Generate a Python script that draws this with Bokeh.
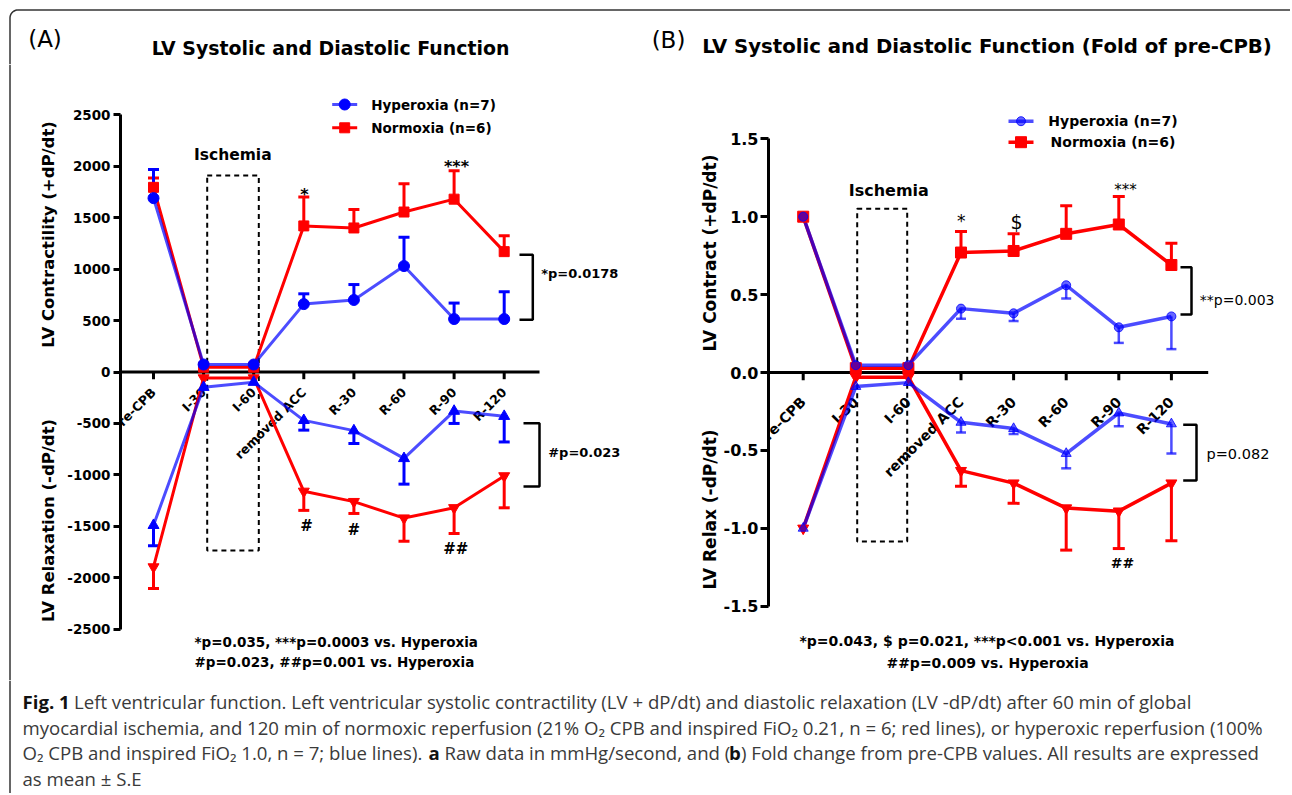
import math
import numpy as np
from bokeh.plotting import figure
from bokeh.models import (Range1d, LinearAxis, FixedTicker, CustomJSTickFormatter,
                          ColumnDataSource, Whisker, TeeHead)
from bokeh.layouts import row, column
from bokeh.core.properties import value
from bokeh.embed import file_html
from bokeh.resources import INLINE

# ---------------- data ----------------
categories = ["pre-CPB", "I-30", "I-60", "removed ACC", "R-30", "R-60", "R-90", "R-120"]

# Panel A: raw values (mmHg/s), mean and S.E.
a_hyper_contr = [1690, 73, 73, 660, 700, 1030, 515, 515]
a_hyper_contr_se = [278, 0, 0, 100, 150, 280, 155, 265]
a_normo_contr = [1795, 47, 47, 1420, 1400, 1555, 1680, 1170]
a_normo_contr_se = [90, 0, 0, 280, 180, 275, 275, 155]
a_hyper_relax = [-1490, -148, -99, -470, -570, -840, -380, -430]
a_hyper_relax_se = [200, 0, 0, 95, 125, 250, 120, 250]
a_normo_relax = [-1895, -58, -58, -1160, -1260, -1420, -1320, -1010]
a_normo_relax_se = [210, 0, 0, 185, 115, 225, 250, 310]

# Panel B: fold of pre-CPB, mean and S.E.
b_hyper_contr = [1.0, 0.047, 0.047, 0.41, 0.38, 0.56, 0.29, 0.36]
b_hyper_contr_se = [0, 0, 0, 0.065, 0.05, 0.085, 0.10, 0.21]
b_normo_contr = [1.0, 0.028, 0.028, 0.77, 0.78, 0.89, 0.95, 0.69]
b_normo_contr_se = [0, 0, 0, 0.135, 0.11, 0.18, 0.18, 0.14]
b_hyper_relax = [-1.0, -0.09, -0.065, -0.32, -0.36, -0.52, -0.26, -0.33]
b_hyper_relax_se = [0, 0, 0, 0.065, 0.035, 0.095, 0.085, 0.19]
b_normo_relax = [-1.0, -0.03, -0.03, -0.63, -0.71, -0.87, -0.89, -0.71]
b_normo_relax_se = [0, 0, 0, 0.10, 0.13, 0.27, 0.24, 0.37]

a_ticks = [-2500, -2000, -1500, -1000, -500, 0, 500, 1000, 1500, 2000, 2500]
b_ticks = [-1.5, -1.0, -0.5, 0.0, 0.5, 1.0, 1.5]

legend_labels = ["Hyperoxia (n=7)", "Normoxia (n=6)"]

# caption: (text, bold, left x in px) runs for each line
caption_lines = [
    [("Fig. 1", True, 22),
     ("Left ventricular function. Left ventricular systolic contractility (LV + dP/dt) and diastolic relaxation (LV -dP/dt) after 60 min of global", False, 73.5)],
    [("myocardial ischemia, and 120 min of normoxic reperfusion (21% O\u2082 CPB and inspired FiO\u2082 0.21, n = 6; red lines), or hyperoxic reperfusion (100%", False, 22)],
    [("O\u2082 CPB and inspired FiO\u2082 1.0, n = 7; blue lines).", False, 22),
     ("a", True, 428),
     ("Raw data in mmHg/second, and (", False, 444),
     ("b", True, 728.5),
     (") Fold change from pre-CPB values. All results are expressed", False, 740.5)],
    [("as mean \u00b1 S.E", False, 22)],
]

# ---------------- style ----------------
FONT = "DejaVu Sans"
CAP_FONT = "Open Sans"
CAP_SIZE = 18.6
RED = "#ff0000"
BLUE = "#0000ff"
BORDER = "#333333"
xpos = list(range(len(categories)))


def base_fig(width, height, pxx, pxy, xr=None, yr=None, border_left=0):
    xr = xr if xr is not None else pxx
    yr = yr if yr is not None else pxy
    p = figure(width=width, height=height, x_range=Range1d(*xr), y_range=Range1d(*yr),
               x_axis_type=None, y_axis_type=None, toolbar_location=None,
               output_backend="svg", min_border_left=border_left, min_border_right=0,
               min_border_top=0, min_border_bottom=0, outline_line_color=None,
               background_fill_color="white", border_fill_color="white")
    p.extra_x_ranges = {"px": Range1d(*pxx)}
    p.extra_y_ranges = {"px": Range1d(*pxy)}
    return p


def txt(p, x, y, s, size, bold=True, align="center", baseline="middle", angle=0.0,
        font=FONT, color="black"):
    p.text(x=[x], y=[y], text=[s], x_range_name="px", y_range_name="px",
           text_font=value(font), text_font_size=f"{size}px",
           text_font_style="bold" if bold else "normal",
           text_align=align, text_baseline=baseline, angle=angle, text_color=color)


def pline(p, xs, ys, width=2.0, color="black", dash="solid", alpha=1.0):
    p.line(x=xs, y=ys, x_range_name="px", y_range_name="px", line_width=width,
           line_color=color, line_dash=dash, line_alpha=alpha)


def yaxis(p, ticks, size, code, tick_out, standoff):
    ax = LinearAxis(ticker=FixedTicker(ticks=ticks), bounds=(min(ticks), max(ticks)),
                    formatter=CustomJSTickFormatter(code=code),
                    axis_line_width=3, axis_line_color="black",
                    major_tick_line_width=3, major_tick_line_color="black",
                    major_tick_in=0, major_tick_out=tick_out,
                    minor_tick_in=0, minor_tick_out=0, major_label_standoff=standoff,
                    major_label_text_font=FONT, major_label_text_font_style="bold",
                    major_label_text_font_size=f"{size}px", major_label_text_color="black")
    p.add_layout(ax, "left")


def xaxis(p, x_lo, x_hi, tick_len, size, xoff, yoff):
    n = len(xpos)
    p.segment(x0=[x_lo], y0=[0], x1=[x_hi], y1=[0], line_width=3, line_color="black")
    p.segment(x0=xpos, y0=[0] * n, x1=xpos, y1=[-tick_len] * n, line_width=3, line_color="black")
    p.text(x=xpos, y=[0] * n, text=categories, angle=math.pi / 4, text_align="right",
           text_baseline="middle", x_offset=xoff, y_offset=yoff,
           text_font=value(FONT), text_font_style="bold", text_font_size=f"{size}px",
           text_color="black")


def errbars(p, y, se, up, color, lw, cap, alpha=1.0):
    xs_, lo, hi = [], [], []
    for xi, yi, si in zip(xpos, y, se):
        if si > 0:
            xs_.append(xi)
            if up:
                lo.append(yi); hi.append(yi + si)
            else:
                lo.append(yi - si); hi.append(yi)
    src = ColumnDataSource(dict(x=xs_, lower=lo, upper=hi))
    head = TeeHead(size=cap, line_color=color, line_width=lw, line_alpha=alpha)
    w = Whisker(source=src, base="x", lower="lower", upper="upper", dimension="height",
                line_color=color, line_width=lw, line_alpha=alpha,
                upper_head=head if up else None, lower_head=None if up else head)
    p.add_layout(w)


# ---------------- top strip (titles, panel letters, border) ----------------
top = base_fig(1290, 64, (0, 1290), (64, 0))
t = np.linspace(0, math.pi / 2, 12)
pline(top, list(17.5 - 8 * np.cos(t)), list(17.5 - 8 * np.sin(t)), width=1.5, color=BORDER)
pline(top, [17.5, 1290], [9.5, 9.5], width=1.5, color=BORDER)
pline(top, [9.5, 9.5], [17.5, 64], width=1.5, color=BORDER)
txt(top, 44.5, 38.5, "(A)", 23, bold=False)
txt(top, 330, 47, "LV Systolic and Diastolic Function", 18.9)
txt(top, 668, 39.5, "(B)", 23, bold=False)
txt(top, 986.5, 45.5, "LV Systolic and Diastolic Function (Fold of pre-CPB)", 19.7)

# ---------------- panel A ----------------
ax_left = base_fig(64, 616, (0, 64), (680, 64))
pline(ax_left, [9.5, 9.5], [64, 680], width=1.5, color=BORDER)
txt(ax_left, 48, 234, "LV Contractility (+dP/dt)", 16.5, angle=math.pi / 2)
txt(ax_left, 48, 520, "LV Relaxation (-dP/dt)", 16.5, angle=math.pi / 2)

pA = base_fig(574, 616, (120, 638), (680, 64),
              xr=(-0.6587, 9.6806), yr=(-2998.6, 2988.9), border_left=56)
yaxis(pA, a_ticks, 13.5, "return tick.toFixed(0);", 7, 3)
xaxis(pA, -0.6587, 7.705, 70, 12.5, 0, 18)

# ischemia box & label
pA.quad(left=[206.7], right=[258.3], top=[175], bottom=[550], x_range_name="px",
        y_range_name="px", fill_color=None, line_color="black", line_width=2, line_dash="5 4")
txt(pA, 232.3, 154, "Ischemia", 15.5)

# series lines
pA.line(xpos, a_normo_contr, line_color=RED, line_width=3)
pA.line(xpos, a_normo_relax, line_color=RED, line_width=3)
pA.line(xpos, a_hyper_contr, line_color=BLUE, line_width=3, line_alpha=0.7)
pA.line(xpos, a_hyper_relax, line_color=BLUE, line_width=3, line_alpha=0.7)
errbars(pA, a_normo_contr, a_normo_contr_se, True, RED, 3, 11)
errbars(pA, a_hyper_contr, a_hyper_contr_se, True, BLUE, 3, 11)
errbars(pA, a_normo_relax, a_normo_relax_se, False, RED, 3, 11)
errbars(pA, a_hyper_relax, a_hyper_relax_se, False, BLUE, 3, 11)
pA.scatter(xpos, a_normo_contr, marker="square", size=10, color=RED)
pA.scatter(xpos, a_normo_relax, marker="inverted_triangle", size=11, color=RED)
pA.scatter(xpos, a_hyper_contr, marker="circle", size=11, color=BLUE)
pA.scatter(xpos, a_hyper_relax, marker="triangle", size=11, color=BLUE)

# legend A
pline(pA, [331.7, 356.7], [104, 104], width=3, color=BLUE, alpha=0.7)
pA.scatter(x=[344.2], y=[104], x_range_name="px", y_range_name="px", marker="circle", size=11, color=BLUE)
pline(pA, [331.7, 356.7], [127.3, 127.3], width=3, color=RED)
pA.scatter(x=[344.2], y=[127.3], x_range_name="px", y_range_name="px", marker="square", size=10, color=RED)
txt(pA, 370.7, 104, legend_labels[0], 13.5, align="left")
txt(pA, 370.7, 127.3, legend_labels[1], 13.5, align="left")

# significance marks A
txt(pA, 304, 194, "*", 16)
txt(pA, 456, 166, "***", 16)
txt(pA, 306, 525, "#", 15)
txt(pA, 353.3, 529, "#", 15)
txt(pA, 455.3, 548, "##", 15)

# brackets A
pline(pA, [519, 532.3, 532.3, 519], [254.3, 254.3, 319.3, 319.3], width=2.5)
txt(pA, 540.7, 273.3, "*p=0.0178", 13, align="left")
pline(pA, [523, 539, 539, 523], [422.7, 422.7, 486, 486], width=2.5)
txt(pA, 547.7, 451.7, "#p=0.023", 13, align="left")

txt(pA, 194, 641.7, "*p=0.035, ***p=0.0003 vs. Hyperoxia", 13.5, align="left")
txt(pA, 194, 661, "#p=0.023, ##p=0.001 vs. Hyperoxia", 13.5, align="left")

# ---------------- panel B ----------------
bx_left = base_fig(82, 616, (638, 720), (680, 64))
txt(bx_left, 709, 252.5, "LV Contract (+dP/dt)", 17, angle=math.pi / 2)
txt(bx_left, 709, 509, "LV Relax (-dP/dt)", 17, angle=math.pi / 2)

pB = base_fig(570, 616, (768, 1290), (680, 64),
              xr=(-0.6597, 9.2643), yr=(-1.9769, 1.9769), border_left=48)
yaxis(pB, b_ticks, 16, "return tick.toFixed(1);", 8, 2)
xaxis(pB, -0.6597, 7.70, 0.05, 14, 0, 27)

pB.quad(left=[856.7], right=[906.7], top=[208.3], bottom=[541], x_range_name="px",
        y_range_name="px", fill_color=None, line_color="black", line_width=2, line_dash="5 4")
txt(pB, 888.3, 190, "Ischemia", 16)

pB.line(xpos, b_normo_contr, line_color=RED, line_width=3.5)
pB.line(xpos, b_normo_relax, line_color=RED, line_width=3.5)
pB.line(xpos, b_hyper_contr, line_color=BLUE, line_width=3.5, line_alpha=0.7)
pB.line(xpos, b_hyper_relax, line_color=BLUE, line_width=3.5, line_alpha=0.7)
errbars(pB, b_normo_contr, b_normo_contr_se, True, RED, 3, 12)
errbars(pB, b_hyper_contr, b_hyper_contr_se, False, BLUE, 2.5, 10, alpha=0.7)
errbars(pB, b_normo_relax, b_normo_relax_se, False, RED, 3, 12)
errbars(pB, b_hyper_relax, b_hyper_relax_se, False, BLUE, 2.5, 10, alpha=0.7)
pB.scatter(xpos, b_normo_contr, marker="square", size=11, color=RED)
pB.scatter(xpos, b_normo_relax, marker="inverted_triangle", size=11, color=RED)
pB.scatter(xpos, b_hyper_contr, marker="circle", size=9, fill_color=BLUE, fill_alpha=0.6,
           line_color=BLUE, line_alpha=0.8)
pB.scatter(xpos, b_hyper_relax, marker="triangle", size=10, fill_color=BLUE, fill_alpha=0.6,
           line_color=BLUE, line_alpha=0.8)

pline(pB, [1008, 1033], [120.7, 120.7], width=3.5, color=BLUE, alpha=0.7)
pB.scatter(x=[1020.5], y=[120.7], x_range_name="px", y_range_name="px", marker="circle", size=9,
           fill_color=BLUE, fill_alpha=0.6, line_color=BLUE, line_alpha=0.8)
pline(pB, [1008, 1033], [141.7, 141.7], width=3.5, color=RED)
pB.scatter(x=[1020.5], y=[141.7], x_range_name="px", y_range_name="px", marker="square", size=11, color=RED)
txt(pB, 1112.5, 120.7, legend_labels[0], 14)
txt(pB, 1112.5, 141.7, legend_labels[1], 14)

txt(pB, 960.7, 220, "*", 17, bold=False)
txt(pB, 1016, 221.7, "$", 19, bold=False)
txt(pB, 1125, 189.5, "***", 15, bold=False)
txt(pB, 1122, 562.7, "##", 14)

pline(pB, [1180, 1191, 1191, 1180], [266.7, 266.7, 314, 314], width=2.5)
txt(pB, 1199.3, 299.3, "**p=0.003", 14, bold=False, align="left")
pline(pB, [1182.7, 1196, 1196, 1182.7], [424.3, 424.3, 480, 480], width=2.5)
txt(pB, 1206, 453.3, "p=0.082", 14.5, bold=False, align="left")

txt(pB, 986.5, 640, "*p=0.043, $ p=0.021, ***p<0.001 vs. Hyperoxia", 14)
txt(pB, 987, 662, "##p=0.009 vs. Hyperoxia", 14)

# ---------------- caption ----------------
cap = base_fig(1290, 113, (0, 1290), (793, 680))
pline(cap, [9.5, 9.5], [680, 793], width=1.5, color=BORDER)
line_y = [701, 726.5, 752, 777.5]
for runs, yy in zip(caption_lines, line_y):
    for s, b, x0 in runs:
        txt(cap, x0, yy, s, CAP_SIZE, bold=b, align="left", font=CAP_FONT,
            color="#111111" if b else "#3a3a3a")

layout = column(top, row(ax_left, pA, bx_left, pB), cap)
open("out.html", "w").write(file_html(layout, INLINE))
